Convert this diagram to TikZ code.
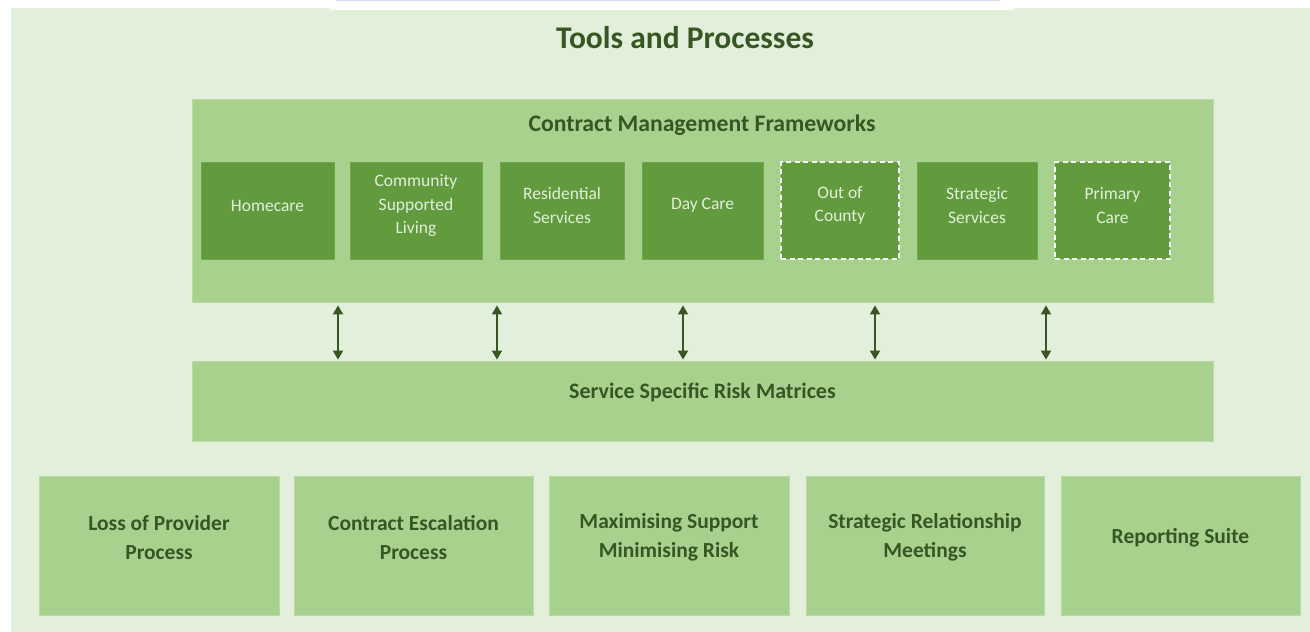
\documentclass[tikz,border=0pt]{standalone}
\usepackage{fontspec}
\setmainfont{Carlito}
\usetikzlibrary{arrows.meta}
\definecolor{bgpale}{HTML}{E2EFDA}
\definecolor{midgreen}{HTML}{A9D18E}
\definecolor{midedge}{HTML}{B9DBA3}
\definecolor{darkbox}{HTML}{619B3D}
\definecolor{darkedge}{HTML}{6FA84B}
\definecolor{txtgreen}{HTML}{375623}
\definecolor{paleblue}{HTML}{D0DCF2}
\tikzset{
  panel/.style={rectangle, fill=midgreen, draw=midedge, line width=0.8pt, inner sep=0pt},
  innerbox/.style={rectangle, fill=darkbox, draw=darkedge, line width=0.8pt, inner sep=0pt, minimum height=97pt},
  dashbox/.style={innerbox, draw=white, line width=1.3pt, dash pattern=on 5pt off 3.5pt},
  innertext/.style={text=bgpale, font=\fontsize{17.5}{23.5}\selectfont, align=center, yshift=5pt},
  bottombox/.style={panel, minimum width=239pt, minimum height=139pt},
  bottomtext/.style={text=txtgreen, font=\bfseries\fontsize{21.5}{29}\selectfont, align=center, yshift=8pt},
  heading/.style={text=txtgreen, font=\bfseries\fontsize{23.7}{28}\selectfont},
  link/.style={draw=txtgreen, line width=1.6pt, {Triangle[width=10pt,length=9pt]}-{Triangle[width=10pt,length=9pt]}}
}
\begin{document}
\begin{tikzpicture}[x=1pt, y=-1pt]
\useasboundingbox (0,0) rectangle (1310,632);
% background
\fill[white] (0,0) rectangle (1310,632);
\fill[bgpale] (11,8) -- (329,8) -- (329,10) -- (1014,10) -- (1014,8) -- (1310,8) -- (1310,632) -- (11,632) -- cycle;
\draw[paleblue, line width=1pt] (336,0.5) -- (1000,0.5);
% title
\node[text=txtgreen, font=\bfseries\fontsize{31.5}{36}\selectfont] (title) at (685,38) {Tools and Processes};
% contract management frameworks panel
\node[panel, minimum width=1021pt, minimum height=203pt] (cmf) at (702.5,200.5) {};
\node[heading] (cmftitle) at (702,125) {Contract Management Frameworks};
% inner boxes
\node[innerbox, minimum width=133pt, label={[innertext]center:Homecare}] (home) at (267.5,210.5) {};
\node[innerbox, minimum width=132pt, label={[innertext]center:Community\\Supported\\Living}] (csl) at (416,210.5) {};
\node[innerbox, minimum width=124pt, label={[innertext]center:Residential\\Services}] (res) at (562,210.5) {};
\node[innerbox, minimum width=121pt, label={[innertext]center:Day Care}] (day) at (702.5,210.5) {};
\node[dashbox, minimum width=118pt, label={[innertext]center:Out of\\County}] (ooc) at (840,210.5) {};
\node[innerbox, minimum width=120pt, label={[innertext]center:Strategic\\Services}] (strat) at (977,210.5) {};
\node[dashbox, minimum width=115pt, label={[innertext]center:Primary\\Care}] (prim) at (1112.5,210.5) {};
% risk matrices panel
\node[panel, minimum width=1021pt, minimum height=80pt, label={[heading, font=\bfseries\fontsize{22}{26}\selectfont, yshift=9pt]center:Service Specific Risk Matrices}] (risk) at (702.5,401) {};
% arrows
\foreach \i/\x in {1/338, 2/497, 3/683, 4/875, 5/1046} {
  \coordinate (ax\i) at (\x,330);
  \draw[link, shorten <=3pt, shorten >=1pt] (cmf.south -| ax\i) -- (risk.north -| ax\i);
}
% bottom boxes
\node[bottombox, minimum width=240pt, label={[bottomtext]center:Loss of Provider\\Process}] (loss) at (159,545.5) {};
\node[bottombox, label={[bottomtext]center:Contract Escalation\\Process}] (esc) at (413.5,545.5) {};
\node[bottombox, minimum width=240pt, label={[bottomtext]center:Maximising Support\\Minimising Risk}] (max) at (669,545.5) {};
\node[bottombox, minimum width=238pt, label={[bottomtext]center:Strategic Relationship\\Meetings}] (srm) at (925,545.5) {};
\node[bottombox, label={[bottomtext]center:Reporting Suite}] (rep) at (1180.5,545.5) {};
\end{tikzpicture}
\end{document}
